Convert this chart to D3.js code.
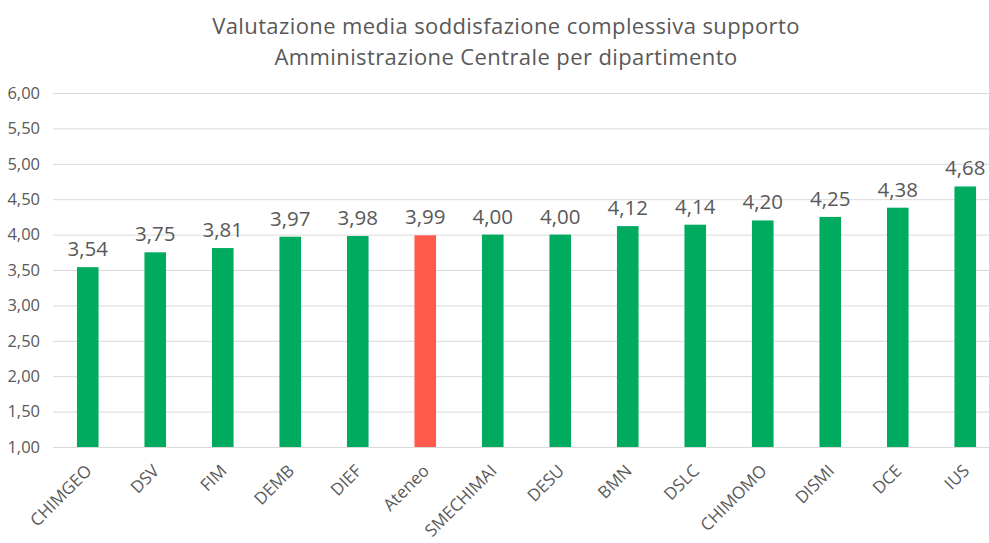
<!DOCTYPE html>
<html><head><meta charset="utf-8">
<script src="https://cdn.jsdelivr.net/npm/d3@7"></script>
<style>
html,body{margin:0;padding:0;background:#fff;overflow:hidden;}
svg{display:block;font-family:"Open Sans",sans-serif;}
</style></head>
<body>
<svg id="c" width="989" height="543"></svg>
<script>
const categories = ["CHIMGEO","DSV","FIM","DEMB","DIEF","Ateneo","SMECHIMAI","DESU","BMN","DSLC","CHIMOMO","DISMI","DCE","IUS"];
const values = [3.54,3.75,3.81,3.97,3.98,3.99,4.00,4.00,4.12,4.14,4.20,4.25,4.38,4.68];
const highlight = ["Ateneo"];
const yTicks = [1,1.5,2,2.5,3,3.5,4,4.5,5,5.5,6];
const titleLines = ["Valutazione media soddisfazione complessiva supporto","Amministrazione Centrale per dipartimento"];

const svg = d3.select("#c");
const W = 989, H = 543;
const x = d3.scaleBand().domain(categories).range([54, 999]).paddingInner(0.68).paddingOuter(0.34);
const y = d3.scaleLinear().domain([1, 6]).range([447, 93]);
const fmt = v => d3.format(".2f")(v).replace(".", ",");

// title
svg.append("text").attr("x", 506).attr("y", 34).attr("text-anchor","middle")
  .attr("fill","#595959").attr("font-size", 22).attr("letter-spacing", 0.4).text(titleLines[0]);
svg.append("text").attr("x", 506).attr("y", 65).attr("text-anchor","middle")
  .attr("fill","#595959").attr("font-size", 22).attr("letter-spacing", 0.4).text(titleLines[1]);

// grid
const yAxis = d3.axisLeft(y).tickValues(yTicks).tickSize(-(W - 53)).tickFormat(fmt);
const gy = svg.append("g").attr("transform","translate(53,0)").call(yAxis);
gy.select(".domain").remove();
gy.selectAll(".tick line").attr("stroke","#d9d9d9").attr("stroke-width",1);
gy.selectAll(".tick text").attr("fill","#595959").attr("font-size",16.5).attr("x",-13)
  .attr("font-family","'Open Sans',sans-serif");

// bars
svg.append("g").selectAll("rect").data(categories).join("rect")
  .attr("x", d => x(d)).attr("width", x.bandwidth())
  .attr("y", (d,i) => y(values[i])).attr("height", (d,i) => y(1) - y(values[i]))
  .attr("fill", d => highlight.includes(d) ? "#FF5A4B" : "#00AB5F");

// value labels
svg.append("g").selectAll("text").data(categories).join("text")
  .attr("x", d => x(d) + x.bandwidth()/2).attr("y", (d,i) => y(values[i]) - 11)
  .attr("text-anchor","middle").attr("fill","#595959").attr("font-size",20.5)
  .text((d,i) => fmt(values[i]));

// x axis
const xAxis = d3.axisBottom(x).tickSize(0).tickPadding(0);
const gx = svg.append("g").attr("transform",`translate(0,${y(1)})`).call(xAxis);
gx.select(".domain").attr("stroke","#d9d9d9");
gx.selectAll(".tick text").attr("fill","#595959").attr("font-size",17)
  .attr("font-family","'Open Sans',sans-serif")
  .attr("text-anchor","end").attr("dy",null).attr("y",null)
  .attr("transform","translate(5,25) rotate(-45)");
</script>
</body></html>
